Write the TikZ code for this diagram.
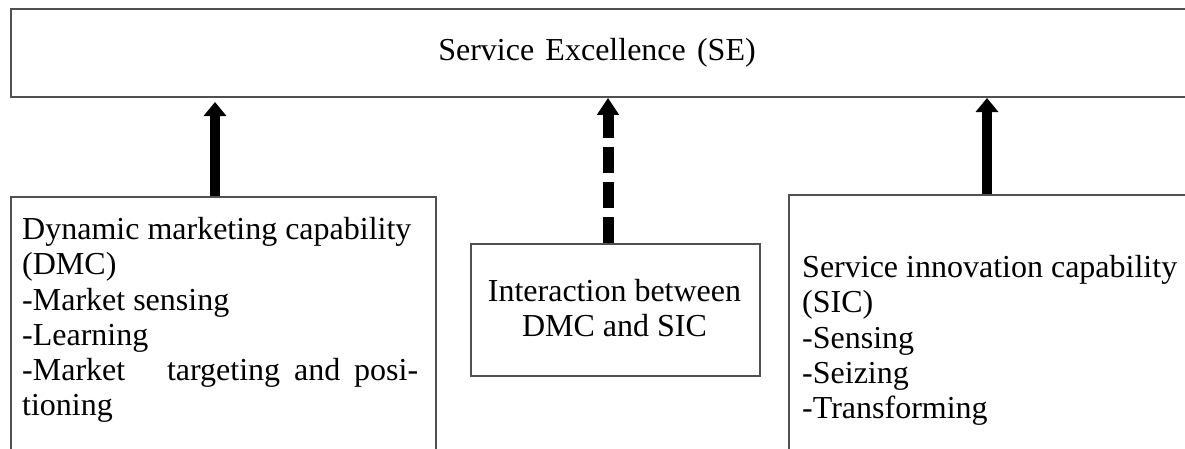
\documentclass[tikz,border=0pt]{standalone}
\usepackage{fontspec}
\setmainfont{Liberation Serif}
\usetikzlibrary{arrows.meta}
\definecolor{boxline}{RGB}{80,80,80}
\tikzset{
  box/.style={draw=boxline, line width=1.8pt, rectangle, inner sep=0pt},
  txt/.style={font=\fontsize{32}{35.3}\selectfont, inner sep=0pt},
  upsolid/.style={line width=10pt, -{Triangle[width=22pt,length=14pt]}},
  updashed/.style={line width=11pt, dash pattern=on 26pt off 9pt, -{Triangle[width=21pt,length=17pt]}},
}
\begin{document}
\begin{tikzpicture}[x=1pt,y=-1pt]
\useasboundingbox (0,0) rectangle (1185,448);
\clip (0,0) rectangle (1185,448);
% boxes
\node[box, anchor=north west, minimum width=1190pt, minimum height=88pt] (se) at (10,8) {};
\node[box, anchor=north west, minimum width=425pt, minimum height=290pt] (dmc) at (10,196) {};
\node[box, anchor=north west, minimum width=289pt, minimum height=132pt] (mid) at (470,243) {};
\node[box, anchor=north west, minimum width=420pt, minimum height=290pt] (sic) at (788,194) {};
% texts
\node[txt] (setext) at (597,53) {Service\hspace{0.1em} Excellence\hspace{0.1em} (SE)};
\node[txt, anchor=north west, align=left] (dmctext) at (22,217) {Dynamic marketing capability\\
(DMC)\\
-Market sensing\\
-Learning\\
\makebox[396pt][s]{-Market\ \ \ targeting and posi-}\\
tioning};
\node[txt, align=center] (midtext) at (614.5,308) {Interaction between\\DMC and SIC};
\node[txt, anchor=north west, align=left] (sictext) at (802,255) {Service innovation capability\\
(SIC)\\
-Sensing\\
-Seizing\\
-Transforming};
% arrows
\coordinate (a1) at (215,102);
\coordinate (a2) at (608,0);
\coordinate (a3) at (987,98);
\draw[upsolid] (dmc.north -| a1) -- (a1);
\draw[updashed] (mid.north -| a2) -- (se.south -| a2);
\draw[upsolid] (sic.north -| a3) -- (a3);
\end{tikzpicture}
\end{document}
